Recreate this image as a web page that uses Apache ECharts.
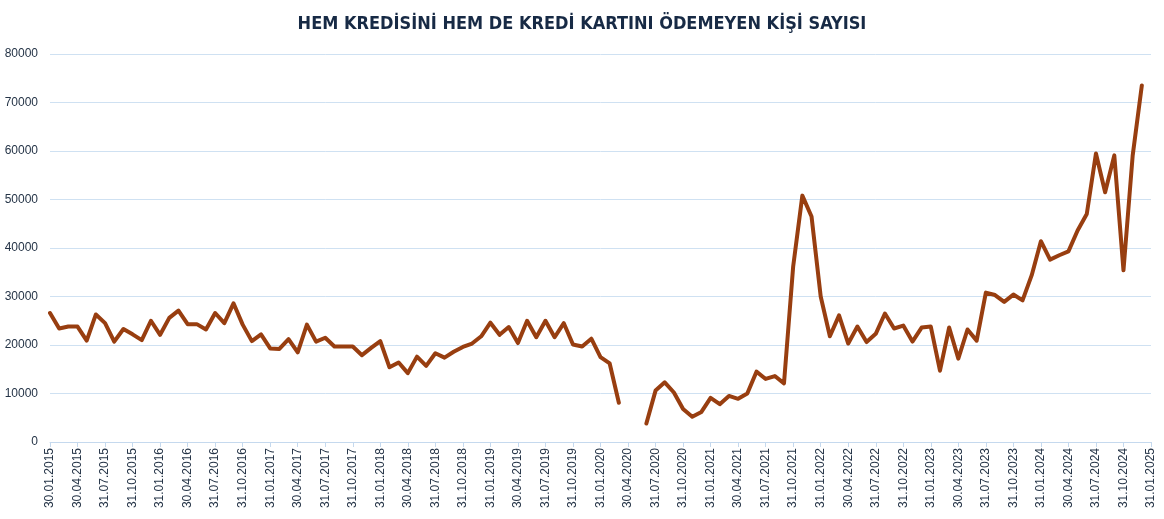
<!DOCTYPE html>
<html>
<head>
<meta charset="utf-8">
<script src="https://cdn.jsdelivr.net/npm/echarts@6/dist/echarts.min.js"></script>
<style>
html,body{margin:0;padding:0;background:#fff;}
#chart{width:1164px;height:519px;}
</style>
</head>
<body>
<div id="chart"></div>
<script>
// Title
const titleText = 'HEM KREDİSİNİ HEM DE KREDİ KARTINI ÖDEMEYEN KİŞİ SAYISI';

// Category range: month-end dates, 01.2015 .. 01.2025
const startYear = 2015;
const endYear = 2025;
const firstLabel = '30.01.2015';

// Monthly values (thousands), 30.01.2015 .. 31.01.2025; null = no data
const values2015 = [26.6, 23.4, 23.8, 23.8, 20.9, 26.3, 24.5, 20.7, 23.3, 22.2, 21.0, 25.0];
const values2016 = [22.1, 25.6, 27.1, 24.3, 24.3, 23.2, 26.6, 24.5, 28.6, 24.2, 20.8, 22.2];
const values2017 = [19.3, 19.2, 21.2, 18.5, 24.2, 20.7, 21.5, 19.7, 19.7, 19.7, 17.9, 19.4];
const values2018 = [20.8, 15.4, 16.4, 14.2, 17.6, 15.7, 18.3, 17.4, 18.6, 19.6, 20.3, 21.8];
const values2019 = [24.6, 22.1, 23.7, 20.4, 25.0, 21.6, 25.0, 21.6, 24.5, 20.1, 19.7, 21.3];
const values2020 = [17.5, 16.2, 8.1, null, null, 3.8, 10.6, 12.3, 10.2, 6.8, 5.2, 6.2];
const values2021 = [9.1, 7.8, 9.5, 8.9, 10.0, 14.5, 13.0, 13.6, 12.1, 36.2, 50.8, 46.5];
const values2022 = [30.0, 21.8, 26.1, 20.3, 23.8, 20.6, 22.3, 26.5, 23.4, 24.0, 20.7, 23.6];
const values2023 = [23.8, 14.7, 23.6, 17.2, 23.2, 20.9, 30.8, 30.3, 28.9, 30.4, 29.2, 34.4];
const values2024 = [41.4, 37.6, 38.5, 39.3, 43.6, 47.0, 59.5, 51.5, 59.1, 35.4, 59.0, 73.5];
const values2025 = [null];

// Y axis ticks
const yMin = 0, yMax = 80000, yStep = 10000;

function monthEndLabel(y, m) {
  const d = new Date(Date.UTC(y, m, 0)).getUTCDate();
  return String(d).padStart(2, '0') + '.' + String(m).padStart(2, '0') + '.' + y;
}
const categories = [];
for (let y = startYear; y <= endYear; y++) {
  const lastM = (y === endYear) ? 1 : 12;
  for (let m = 1; m <= lastM; m++) categories.push(monthEndLabel(y, m));
}
categories[0] = firstLabel;

const seriesData = [].concat(values2015, values2016, values2017, values2018, values2019,
  values2020, values2021, values2022, values2023, values2024, values2025)
  .map(v => v === null ? null : Math.round(v * 1000));

const chart = echarts.init(document.getElementById('chart'), null, {renderer: 'canvas'});
chart.setOption({
  backgroundColor: '#ffffff',
  animation: false,
  title: {
    text: titleText,
    left: 'center',
    top: 10,
    textStyle: {
      fontFamily: 'DejaVu Sans Condensed',
      fontWeight: 'bold',
      fontSize: 18,
      color: '#172a45'
    }
  },
  grid: {left: 50, right: 13, top: 54, bottom: 77, containLabel: false},
  xAxis: {
    type: 'category',
    data: categories,
    boundaryGap: false,
    axisLine: {show: true, lineStyle: {color: '#c5d9ee', width: 1}},
    axisTick: {show: true, interval: 2, length: 5, lineStyle: {color: '#c5d9ee'}},
    axisLabel: {
      interval: 2,
      rotate: 90,
      margin: 6,
      fontFamily: 'Liberation Sans',
      fontSize: 12,
      color: '#253447'
    },
    splitLine: {show: false}
  },
  yAxis: {
    type: 'value',
    min: yMin,
    max: yMax,
    interval: yStep,
    axisLine: {show: false},
    axisTick: {show: false},
    axisLabel: {
      margin: 12,
      fontFamily: 'Liberation Sans',
      fontSize: 12,
      color: '#253447',
      formatter: v => String(v)
    },
    splitLine: {show: true, lineStyle: {color: '#cfe1f2', width: 1}}
  },
  series: [{
    type: 'line',
    data: seriesData,
    showSymbol: false,
    symbol: 'none',
    connectNulls: false,
    lineStyle: {color: '#983e10', width: 4, join: 'round', cap: 'round'},
    itemStyle: {color: '#983e10'}
  }]
});
</script>
</body>
</html>
